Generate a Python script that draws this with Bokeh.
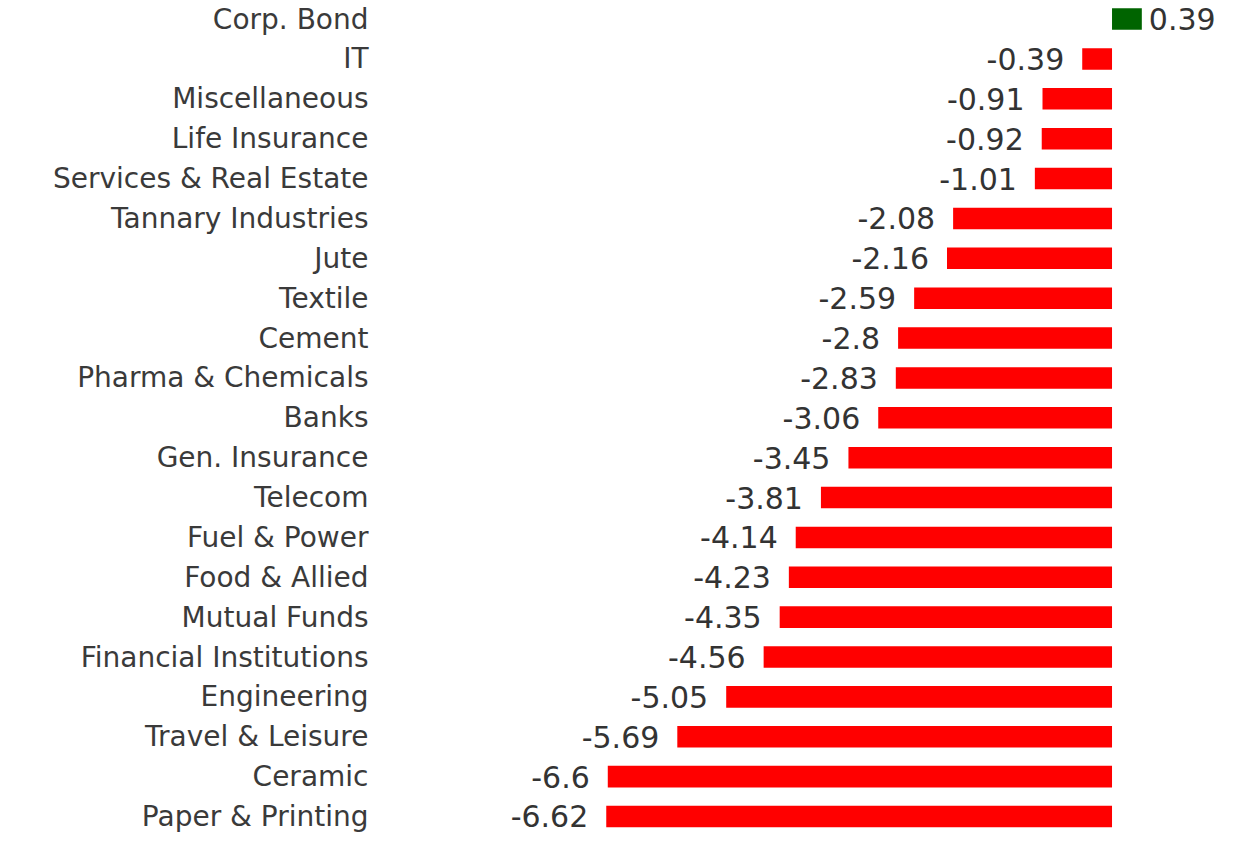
from bokeh.plotting import figure
from bokeh.models import ColumnDataSource, Range1d, FixedTicker
from bokeh.embed import file_html
from bokeh.resources import INLINE

categories = ["Corp. Bond", "IT", "Miscellaneous", "Life Insurance", "Services & Real Estate",
              "Tannary Industries", "Jute", "Textile", "Cement", "Pharma & Chemicals", "Banks",
              "Gen. Insurance", "Telecom", "Fuel & Power", "Food & Allied", "Mutual Funds",
              "Financial Institutions", "Engineering", "Travel & Leisure", "Ceramic",
              "Paper & Printing"]
values = [0.39, -0.39, -0.91, -0.92, -1.01, -2.08, -2.16, -2.59, -2.8, -2.83, -3.06,
          -3.45, -3.81, -4.14, -4.23, -4.35, -4.56, -5.05, -5.69, -6.6, -6.62]

POS = "#006400"
NEG = "#ff0000"

idx = list(range(len(categories)))
src = ColumnDataSource(dict(
    y=idx,
    v=values,
    color=[POS if v >= 0 else NEG for v in values],
    label=[str(v) for v in values],
    align=["left" if v >= 0 else "right" for v in values],
    xoff=[7 if v >= 0 else -18 for v in values],
))

W, H = 1233, 836
p = figure(width=W, height=H, output_backend="svg", toolbar_location=None,
           x_range=Range1d(-9.601, 1.590), y_range=Range1d(20.502, -0.4665),
           x_axis_location=None, min_border_left=378, min_border_right=0,
           min_border_top=0, min_border_bottom=0)
p.outline_line_color = None
p.grid.visible = False
p.background_fill_color = "white"

p.hbar(y="y", left=0, right="v", height=0.54, color="color", line_color=None, source=src)
p.text(x="v", y="y", text="label", text_align="align", x_offset="xoff",
       text_baseline="middle", text_font_size="30px", text_color="#333333",
       text_font={"value": "DejaVu Sans"}, source=src)

ax = p.yaxis[0]
ax.ticker = FixedTicker(ticks=idx)
ax.major_label_overrides = {i: c for i, c in zip(idx, categories)}
ax.axis_line_color = None
ax.major_tick_line_color = None
ax.minor_tick_line_color = None
ax.major_tick_out = 0
ax.major_label_standoff = 10
ax.major_label_text_font = "DejaVu Sans"
ax.major_label_text_font_size = "28px"
ax.major_label_text_color = "#3a3a3a"

open("out.html", "w").write(file_html(p, INLINE))
